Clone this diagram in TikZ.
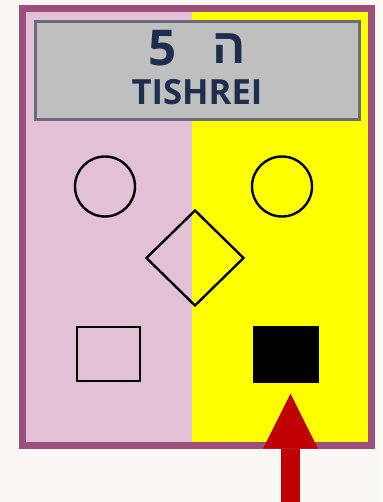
\documentclass[tikz,border=0pt]{standalone}
\usepackage{fontspec}
\setmainfont{Open Sans}
\newfontfamily\hebfont[Script=Hebrew]{Liberation Sans}
\TeXXeTstate=1
\usetikzlibrary{arrows.meta, shapes.geometric}
\definecolor{cardBg}{HTML}{FBF7F3}
\definecolor{cardFrame}{HTML}{9E4E7B}
\definecolor{cardPink}{HTML}{E2C0D5}
\definecolor{cardYellow}{HTML}{FFFF00}
\definecolor{cardGray}{HTML}{BFBFBF}
\definecolor{cardGrayEdge}{HTML}{6B6B7B}
\definecolor{cardInk}{HTML}{1F2D4F}
\definecolor{cardRed}{HTML}{C00000}

\begin{document}
\begin{tikzpicture}[
  x=0.75pt, y=-0.75pt,
  shapebox/.style={draw=black, line width=1.8pt, inner sep=0pt},
  title/.style={font=\bfseries, text=cardInk, inner sep=0pt},
  redarrow/.style={cardRed, line width=14.25pt,
    -{Triangle[length=41.25pt, width=41.25pt, line width=0pt]}},
]
% background and card halves
\fill[cardBg] (0,0) rectangle (382,502);
\useasboundingbox (0,0) rectangle (382,502);
\fill[cardPink] (22,8) rectangle (192,446);
\fill[cardYellow] (192,8) rectangle (372,446);
\draw[cardFrame, line width=5.25pt] (22.5,8.5) rectangle (371.5,445.5);

% header plate
\node[draw=cardGrayEdge, fill=cardGray, line width=2.25pt, inner sep=0pt,
  minimum width=243pt, minimum height=73.5pt] (plate) at (197.5,70.5) {};
\node[title, font=\fontsize{37}{37}\selectfont\bfseries] (num) at (163,48.5) {5};
\node[title, font=\fontsize{37}{37}\selectfont\hebfont\bfseries] (heb) at (229,48.5) {\beginR ה\endR};
\node[title, font=\fontsize{26}{26}\selectfont\bfseries] (month) at (197,92) {TISHREI};

% shapes
\node[shapebox, circle, minimum size=45pt] (lcirc) at (105,186.5) {};
\node[shapebox, circle, minimum size=45pt] (rcirc) at (282,186.5) {};
\node[shapebox, diamond, minimum width=73.5pt, minimum height=72pt] (dia) at (195,258) {};
\node[shapebox, rectangle, minimum width=47.25pt, minimum height=40.5pt] (lsq) at (108.5,354) {};
\node[shapebox, rectangle, fill=black, minimum width=47.25pt, minimum height=40.5pt] (rsq) at (286,354.5) {};

% pointer
\coordinate (tail) at (290.5,502);
\draw[redarrow, shorten >=8.25pt] (tail) -- (rsq.south -| tail);
\end{tikzpicture}
\end{document}
